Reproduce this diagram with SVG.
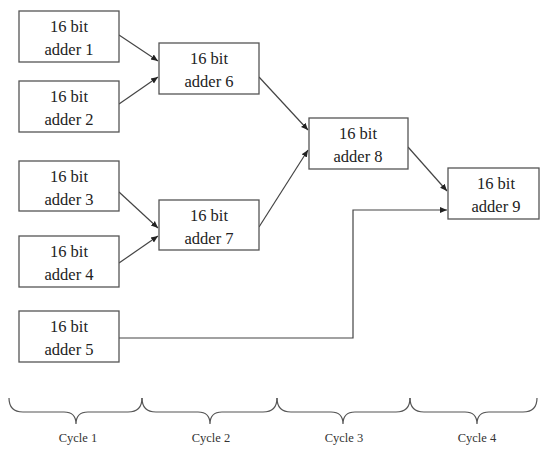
<svg xmlns="http://www.w3.org/2000/svg" width="541" height="454" viewBox="0 0 541 454">
<style>
.box{fill:#fff;stroke:#555;stroke-width:1.3}
.t{font-family:'Liberation Serif','DejaVu Serif',serif;font-size:16.5px;fill:#222;text-anchor:middle}
.c{font-family:'Liberation Serif','DejaVu Serif',serif;font-size:12.5px;fill:#333;text-anchor:middle}
.ln{fill:none;stroke:#444;stroke-width:1.2}
.br{fill:none;stroke:#555;stroke-width:1.2}
</style>
<defs>
<marker id="ah" markerWidth="8" markerHeight="8" refX="7" refY="4" orient="auto" markerUnits="userSpaceOnUse">
<path d="M0,1 L7,4 L0,7 Z" fill="#222"/>
</marker>
</defs>
<rect width="541" height="454" fill="#fff"/>
<g id="connectors">
<line class="ln" x1="119" y1="35" x2="158" y2="61" marker-end="url(#ah)"/>
<line class="ln" x1="119" y1="104" x2="158" y2="77" marker-end="url(#ah)"/>
<line class="ln" x1="119" y1="192" x2="158" y2="228" marker-end="url(#ah)"/>
<line class="ln" x1="119" y1="263" x2="158" y2="236" marker-end="url(#ah)"/>
<line class="ln" x1="259" y1="77" x2="308" y2="130" marker-end="url(#ah)"/>
<line class="ln" x1="259" y1="227" x2="308" y2="150" marker-end="url(#ah)"/>
<line class="ln" x1="408" y1="147" x2="447" y2="191" marker-end="url(#ah)"/>
<polyline class="ln" points="119,338 353,338 353,210 447,210" marker-end="url(#ah)"/>
</g>
<g id="adder1"><rect class="box" x="19" y="11" width="100" height="51"/><text class="t" x="69" y="32">16 bit</text><text class="t" x="69" y="55">adder 1</text></g>
<g id="adder2"><rect class="box" x="19" y="81" width="100" height="51"/><text class="t" x="69" y="102">16 bit</text><text class="t" x="69" y="125">adder 2</text></g>
<g id="adder3"><rect class="box" x="19" y="161" width="100" height="50"/><text class="t" x="69" y="182">16 bit</text><text class="t" x="69" y="205">adder 3</text></g>
<g id="adder4"><rect class="box" x="19" y="236" width="100" height="51"/><text class="t" x="69" y="257">16 bit</text><text class="t" x="69" y="280">adder 4</text></g>
<g id="adder5"><rect class="box" x="19" y="311" width="100" height="51"/><text class="t" x="69" y="332">16 bit</text><text class="t" x="69" y="355">adder 5</text></g>
<g id="adder6"><rect class="box" x="159" y="43" width="100" height="51"/><text class="t" x="209" y="64">16 bit</text><text class="t" x="209" y="87">adder 6</text></g>
<g id="adder7"><rect class="box" x="159" y="200" width="100" height="50"/><text class="t" x="209" y="221">16 bit</text><text class="t" x="209" y="244">adder 7</text></g>
<g id="adder8"><rect class="box" x="309" y="118" width="99" height="51"/><text class="t" x="358" y="139">16 bit</text><text class="t" x="358" y="162">adder 8</text></g>
<g id="adder9"><rect class="box" x="448" y="168" width="91" height="51"/><text class="t" x="496" y="189">16 bit</text><text class="t" x="496" y="212">adder 9</text></g>
<g id="braces">
<path class="br" d="M9,398 Q9,412 23,412 L64,412 Q76,412 76,424 Q76,412 88,412 L128,412 Q142,412 142,398"/>
<path class="br" d="M142,398 Q142,412 156,412 L198,412 Q210,412 210,424 Q210,412 222,412 L263,412 Q277,412 277,398"/>
<path class="br" d="M277,398 Q277,412 291,412 L331,412 Q343,412 343,424 Q343,412 355,412 L396,412 Q410,412 410,398"/>
<path class="br" d="M410,398 Q410,412 424,412 L465,412 Q477,412 477,424 Q477,412 489,412 L523,412 Q537,412 537,398"/>
</g>
<g id="labels">
<text class="c" x="78" y="442">Cycle 1</text>
<text class="c" x="211" y="442">Cycle 2</text>
<text class="c" x="344" y="442">Cycle 3</text>
<text class="c" x="477" y="442">Cycle 4</text>
</g>
</svg>
